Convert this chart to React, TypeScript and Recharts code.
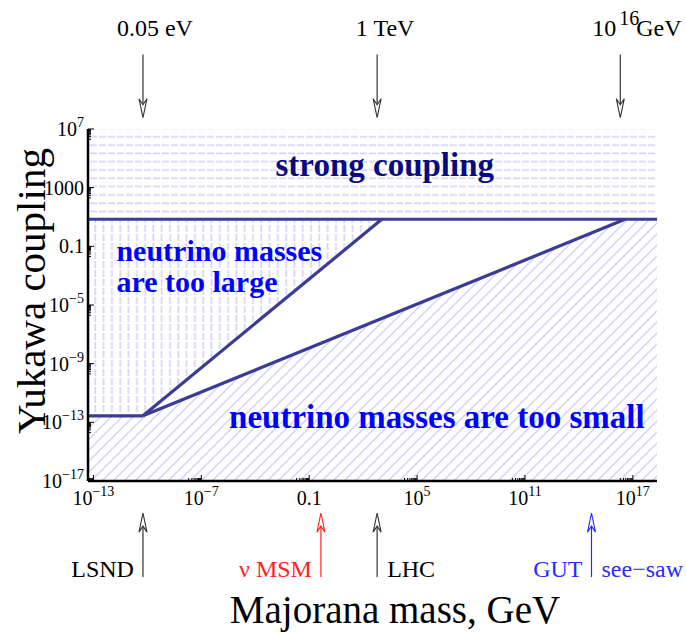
import React from "react";
import { ComposedChart, Area, Line, XAxis, YAxis, ReferenceLine, ReferenceDot } from "recharts";

// axis ranges (Majorana mass in GeV, Yukawa coupling)
const xMin = 5e-14;
const xMax = 2.2e18;
const yMin = 1e-17;
const yMax = 1e7;

const xMajor = [1e-13, 1e-7, 0.1, 1e5, 1e11, 1e17];
const xMajorText = [["10", "−13"], ["10", "−7"], ["0.1", ""], ["10", "5"], ["10", "11"], ["10", "17"]];
const yMajor = [1e7, 1e3, 0.1, 1e-5, 1e-9, 1e-13, 1e-17];
const yMajorText = [["10", "7"], ["1000", ""], ["0.1", ""], ["10", "−5"], ["10", "−9"], ["10", "−13"], ["10", "−17"]];

// shaded regions
const strongMass = [xMin, xMax];
const strongLow = [7, 7];
const largeMass = [xMin, 5.7e-11, 1.1e3];
const largeLow = [2.8e-13, 2.8e-13, 7];
const smallMass = [xMin, 5.7e-11, 3.7e16, xMax];
const smallHigh = [2.8e-13, 2.8e-13, 7, 7];

// boundary lines
const strongEdgeMass = [xMin, xMax];
const strongEdgeY = [7, 7];
const floorMass = [xMin, 5.7e-11];
const floorY = [2.8e-13, 2.8e-13];
const largeEdgeMass = [5.7e-11, 1.1e3];
const largeEdgeY = [2.8e-13, 7];
const seesawMass = [5.7e-11, 3.7e16];
const seesawY = [2.8e-13, 7];

// scale arrows
const topArrowMass = [5.7e-11, 6e2, 2e16];
const topArrowText = ["0.05 eV", "1 TeV", "GeV"];
const bottomArrowMass = [5.7e-11, 0.45, 6e2, 5e14];
const bottomArrowText = ["LSND", "ν MSM", "LHC", "GUT"];
const bottomArrowColor = ["#333333", "#ff2020", "#333333", "#2a2aff"];

const serif = "'Liberation Serif', 'DejaVu Serif', serif";
const lineColor = "#3c3c96";

const minorOf = (majors: number[]) =>
  majors.flatMap((v) => [2, 3, 4, 5, 6, 7, 8, 9].map((k) => (k * v) / 10));
const xTicks = [...xMajor, ...minorOf(xMajor)].filter((v) => v >= xMin && v <= xMax);
const yTicks = [...yMajor, ...minorOf(yMajor)].filter((v) => v >= yMin && v <= yMax);

const pairs = (xs: number[], ys: number[]) => xs.map((m, i) => ({ m, y: ys[i] }));

function BottomTick({ x, y, payload }: any) {
  const i = xMajor.indexOf(payload.value);
  const len = i >= 0 ? 6 : 3;
  return (
    <g>
      <line x1={x} y1={y} x2={x} y2={y - len} stroke="#000" strokeWidth={1} />
      {i >= 0 && (
        <text x={x} y={y + 24} textAnchor="middle" fontFamily={serif} fontSize={20} fill="#000">
          <tspan>{xMajorText[i][0]}</tspan>
          {xMajorText[i][1] && (
            <tspan dy={-9} fontSize={14}>
              {xMajorText[i][1]}
            </tspan>
          )}
        </text>
      )}
    </g>
  );
}

function TopTick({ x, y, payload }: any) {
  const len = xMajor.indexOf(payload.value) >= 0 ? 6 : 3;
  return <line x1={x} y1={y} x2={x} y2={y + len} stroke="#000" strokeWidth={1} />;
}

function LeftTick({ x, y, payload }: any) {
  const i = yMajor.indexOf(payload.value);
  const len = i >= 0 ? 6 : 3;
  return (
    <g>
      <line x1={x} y1={y} x2={x + len} y2={y} stroke="#000" strokeWidth={1} />
      {i >= 0 && (
        <text x={x - 4} y={y + 7} textAnchor="end" fontFamily={serif} fontSize={20} fill="#000">
          <tspan>{yMajorText[i][0]}</tspan>
          {yMajorText[i][1] && (
            <tspan dy={-9} fontSize={14}>
              {yMajorText[i][1]}
            </tspan>
          )}
        </text>
      )}
    </g>
  );
}

function RightTick({ x, y, payload }: any) {
  const len = yMajor.indexOf(payload.value) >= 0 ? 6 : 3;
  return <line x1={x} y1={y} x2={x - len} y2={y} stroke="#000" strokeWidth={1} />;
}

// open arrow head + shaft
function arrow(x: number, yFrom: number, yTip: number, color: string) {
  const s = yTip > yFrom ? 1 : -1;
  return (
    <g>
      <line x1={x} y1={yFrom} x2={x} y2={yTip - s * 12} stroke={color} strokeWidth={1.2} />
      <polygon
        points={`${x},${yTip} ${x - 4},${yTip - s * 19} ${x},${yTip - s * 13} ${x + 4},${yTip - s * 19}`}
        fill="#fff"
        stroke={color}
        strokeWidth={1.1}
      />
    </g>
  );
}

function TopArrow(p: any, i: number) {
  const { x1, y1, y2 } = p;
  return (
    <g>
      {arrow(x1, y1, y2, "#333333")}
      {i < 2 ? (
        <text x={x1 + (i === 0 ? 12 : 8)} y={y1 - 19} textAnchor="middle" fontFamily={serif} fontSize={24} fill="#000">
          {topArrowText[i]}
        </text>
      ) : (
        <text x={x1 - 28} y={y1 - 19} fontFamily={serif} fontSize={24} fill="#000">
          <tspan>10</tspan>
          <tspan dx={3} dy={-11} fontSize={20}>16</tspan>
          <tspan dx={-3} dy={11}>{topArrowText[i]}</tspan>
        </text>
      )}
    </g>
  );
}

function BottomArrow(p: any, i: number) {
  const { x1, y1, y2 } = p;
  const color = bottomArrowColor[i];
  const right = i === 2;
  return (
    <g>
      {arrow(x1, y1, y2, color)}
      <text
        x={right ? x1 + 10 : x1 - 9}
        y={y1}
        textAnchor={right ? "start" : "end"}
        fontFamily={serif}
        fontSize={24}
        fill={color === "#333333" ? "#000" : color}
      >
        {bottomArrowText[i]}
      </text>
      {i === 3 && (
        <text x={x1 + 10} y={y1} fontFamily={serif} fontSize={24} fill={color}>
          see−saw
        </text>
      )}
    </g>
  );
}

function RegionText({ cx, cy, lines, color, anchor, size }: any) {
  return (
    <g>
      {lines.map((t: string, k: number) => (
        <text
          key={k}
          x={cx}
          y={cy + k * 31}
          textAnchor={anchor}
          fontFamily={serif}
          fontWeight="bold"
          fontSize={size}
          fill={color}
        >
          {t}
        </text>
      ))}
    </g>
  );
}

export default function App() {
  const hatch = "#d2d2fc";
  return (
    <div style={{ position: "absolute", left: 0, top: 0, background: "#fff" }}>
      <ComposedChart width={686} height={634} margin={{ top: 129, right: 29, bottom: 123, left: 0 }}>
        <defs>
          <pattern id="hatchH" width="9" height="8.3" patternUnits="userSpaceOnUse">
            <line x1="0" y1="4" x2="7" y2="4" stroke={hatch} strokeWidth="1.6" />
          </pattern>
          <pattern id="hatchV" width="8.3" height="9" patternUnits="userSpaceOnUse">
            <line x1="4" y1="0" x2="4" y2="7" stroke={hatch} strokeWidth="1.6" />
          </pattern>
          <pattern id="hatchD" width="11" height="11" patternUnits="userSpaceOnUse">
            <line x1="0" y1="11" x2="11" y2="0" stroke={hatch} strokeWidth="1.4" />
            <line x1="-1" y1="1" x2="1" y2="-1" stroke={hatch} strokeWidth="1.4" />
            <line x1="10" y1="12" x2="12" y2="10" stroke={hatch} strokeWidth="1.4" />
          </pattern>
        </defs>
        <XAxis
          dataKey="m"
          type="number"
          scale="log"
          domain={[xMin, xMax]}
          allowDataOverflow
          ticks={xTicks}
          interval={0}
          tick={<BottomTick />}
          tickLine={false}
          tickSize={0}
          tickMargin={0}
          axisLine={{ stroke: "#000", strokeWidth: 2.5 }}
          height={30}
          label={{
            content: ({ viewBox }: any) => (
              <text x={viewBox.x + 307} y={viewBox.y + 142} textAnchor="middle" fontFamily={serif} fontSize={39} fill="#000">
                Majorana mass, GeV
              </text>
            ),
          }}
        />
        <XAxis
          xAxisId="top"
          orientation="top"
          dataKey="m"
          type="number"
          scale="log"
          domain={[xMin, xMax]}
          allowDataOverflow
          ticks={xTicks}
          interval={0}
          tick={<TopTick />}
          tickLine={false}
          tickSize={0}
          tickMargin={0}
          axisLine={{ stroke: "#000", strokeWidth: 2.5 }}
          height={0}
        />
        <YAxis
          type="number"
          scale="log"
          domain={[yMin, yMax]}
          allowDataOverflow
          ticks={yTicks}
          interval={0}
          tick={<LeftTick />}
          tickLine={false}
          tickSize={0}
          tickMargin={0}
          axisLine={{ stroke: "#000", strokeWidth: 2.5 }}
          width={88}
          label={{
            content: ({ viewBox }: any) => {
              const cx = viewBox.x + 31;
              const cy = viewBox.y + viewBox.height / 2 - 14;
              return (
                <text
                  x={cx}
                  y={cy}
                  transform={`rotate(-90 ${cx} ${cy})`}
                  textAnchor="middle"
                  dominantBaseline="central"
                  fontFamily={serif}
                  fontSize={41}
                  fill="#000"
                >
                  Yukawa coupling
                </text>
              );
            },
          }}
        />
        <YAxis
          yAxisId="right"
          orientation="right"
          type="number"
          scale="log"
          domain={[yMin, yMax]}
          allowDataOverflow
          ticks={yTicks}
          interval={0}
          tick={<RightTick />}
          tickLine={false}
          tickSize={0}
          tickMargin={0}
          axisLine={{ stroke: "#000", strokeWidth: 2.5 }}
          width={0}
        />

        <Area
          data={strongMass.map((m, i) => ({ m, r: [strongLow[i], yMax] }))}
          dataKey="r"
          type="linear"
          stroke="none"
          fill="url(#hatchH)"
          fillOpacity={1}
          isAnimationActive={false}
        />
        <Area
          data={largeMass.map((m, i) => ({ m, r: [largeLow[i], 7] }))}
          dataKey="r"
          type="linear"
          stroke="none"
          fill="url(#hatchV)"
          fillOpacity={1}
          isAnimationActive={false}
        />
        <Area
          data={smallMass.map((m, i) => ({ m, r: [yMin, smallHigh[i]] }))}
          dataKey="r"
          type="linear"
          stroke="none"
          fill="url(#hatchD)"
          fillOpacity={1}
          isAnimationActive={false}
        />

        <Line data={pairs(strongEdgeMass, strongEdgeY)} dataKey="y" type="linear" stroke={lineColor} strokeWidth={3.2} dot={false} isAnimationActive={false} />
        <Line data={pairs(floorMass, floorY)} dataKey="y" type="linear" stroke={lineColor} strokeWidth={3.2} dot={false} isAnimationActive={false} />
        <Line data={pairs(largeEdgeMass, largeEdgeY)} dataKey="y" type="linear" stroke={lineColor} strokeWidth={3.2} dot={false} isAnimationActive={false} />
        <Line data={pairs(seesawMass, seesawY)} dataKey="y" type="linear" stroke={lineColor} strokeWidth={3.2} dot={false} isAnimationActive={false} />

        <ReferenceDot
          x={1.6e3}
          y={6e3}
          r={0}
          ifOverflow="visible"
          shape={(p: any) => <RegionText {...p} lines={["strong coupling"]} color="#0a0a80" anchor="middle" size={33} />}
        />
        <ReferenceDot
          x={1.9e-12}
          y={1.05e-2}
          r={0}
          ifOverflow="visible"
          shape={(p: any) => <RegionText {...p} lines={["neutrino masses", "are too large"]} color="#0000ff" anchor="start" size={30} />}
        />
        <ReferenceDot
          x={3.5e-6}
          y={3.9e-14}
          r={0}
          ifOverflow="visible"
          shape={(p: any) => <RegionText {...p} lines={["neutrino masses are too small"]} color="#0000ff" anchor="start" size={33} />}
        />

        {topArrowMass.map((m, i) => (
          <ReferenceLine
            key={"t" + i}
            segment={[{ x: m, y: 1.2e12 }, { x: m, y: 5.9e7 }]}
            ifOverflow="visible"
            shape={(p: any) => TopArrow(p, i)}
          />
        ))}
        {bottomArrowMass.map((m, i) => (
          <ReferenceLine
            key={"b" + i}
            segment={[{ x: m, y: 2.8e-24 }, { x: m, y: 6.5e-20 }]}
            ifOverflow="visible"
            shape={(p: any) => BottomArrow(p, i)}
          />
        ))}
      </ComposedChart>
    </div>
  );
}
